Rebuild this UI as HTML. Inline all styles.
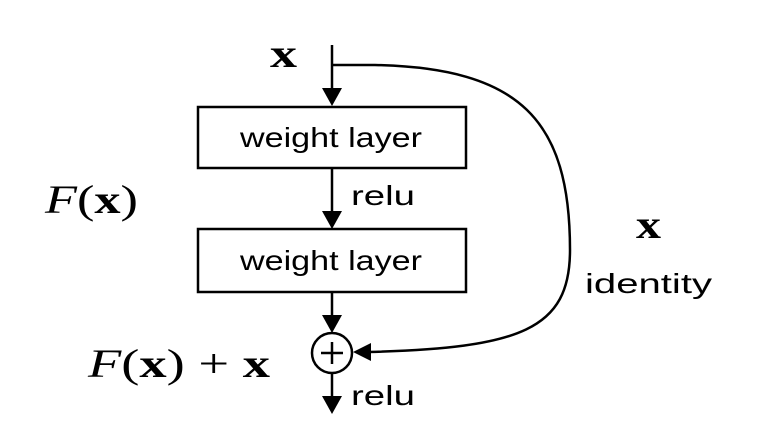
<!DOCTYPE html>
<html><head><meta charset="utf-8"><style>html,body{margin:0;padding:0;background:#fff}svg{display:block}</style></head>
<body>
<svg width="758" height="432" viewBox="0 0 758 432" xmlns="http://www.w3.org/2000/svg">
<g stroke="#000" stroke-width="2.5" fill="none">
<line x1="332" y1="45" x2="332" y2="90"/>
<path d="M322,88 L332,106 L342,88 z" fill="#000" stroke="none"/>
<rect x="198" y="107" width="268" height="61" fill="#fff"/>
<line x1="332" y1="168" x2="332" y2="212"/>
<path d="M322,211 L332,229 L342,211 z" fill="#000" stroke="none"/>
<rect x="198" y="229" width="268" height="63" fill="#fff"/>
<line x1="332" y1="292" x2="332" y2="316"/>
<path d="M322,315 L332,333 L342,315 z" fill="#000" stroke="none"/>
<circle cx="332" cy="353" r="20" fill="#fff"/>
<line x1="332" y1="342" x2="332" y2="364"/>
<line x1="321" y1="353" x2="343" y2="353"/>
<line x1="332" y1="373" x2="332" y2="398"/>
<path d="M322,396 L332,414 L342,396 z" fill="#000" stroke="none"/>
<path d="M332,65 L375,65 C520,68 570,120 570,250 C570,330 520,348 368,352"/>
<path d="M371,343 L353,352 L371,361 z" fill="#000" stroke="none"/>
</g>
<g font-family="Liberation Sans, sans-serif" font-size="28" fill="#000">
<text x="240" y="147" textLength="182" lengthAdjust="spacingAndGlyphs">weight layer</text>
<text x="240" y="270" textLength="182" lengthAdjust="spacingAndGlyphs">weight layer</text>
<text x="351" y="205" textLength="64" lengthAdjust="spacingAndGlyphs">relu</text>
<text x="351" y="405" textLength="64" lengthAdjust="spacingAndGlyphs">relu</text>
<text x="585" y="293" textLength="127" lengthAdjust="spacingAndGlyphs">identity</text>
</g>
<g font-family="Liberation Serif, serif" font-size="40" fill="#000">
<text x="270" y="67" font-weight="bold" textLength="27" lengthAdjust="spacingAndGlyphs">x</text>
<text x="636" y="238" font-weight="bold" textLength="25" lengthAdjust="spacingAndGlyphs">x</text>
<text x="45" y="213" textLength="93" lengthAdjust="spacingAndGlyphs"><tspan font-style="italic">F</tspan>(<tspan font-weight="bold">x</tspan>)</text>
<text x="88" y="377" textLength="182" lengthAdjust="spacingAndGlyphs"><tspan font-style="italic">F</tspan>(<tspan font-weight="bold">x</tspan>) + <tspan font-weight="bold">x</tspan></text>
</g>
</svg>
</body></html>
